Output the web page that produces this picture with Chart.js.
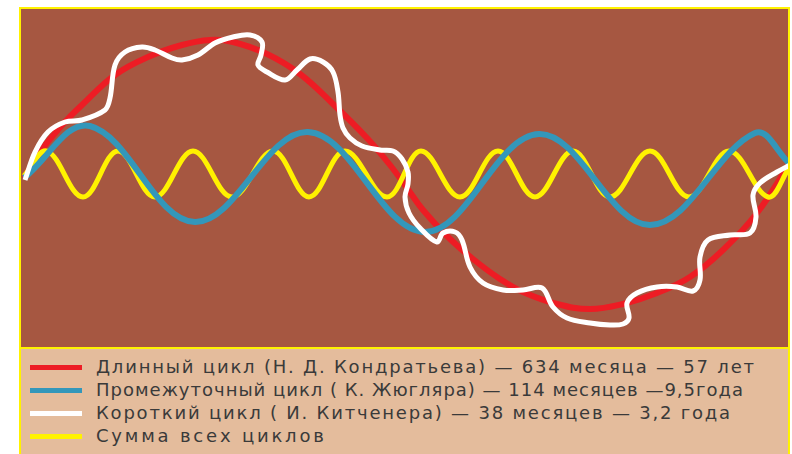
<!DOCTYPE html>
<html>
<head>
<meta charset="utf-8">
<script src="https://cdn.jsdelivr.net/npm/chart.js@4"></script>
<style>
  body { margin: 0; background: #fff; width: 792px; height: 454px; overflow: hidden; position: relative; }
  #plot { position: absolute; left: 19px; top: 7px; width: 767px; height: 338px; border: 2px solid #FFF200; background: #A65741; }
  #legend { position: absolute; left: 19px; top: 349px; width: 767px; height: 110px; border-left: 2px solid #FFF200; border-right: 2px solid #FFF200; background: #E4BC9C; padding-top: 6px; box-sizing: content-box; }
  .row { position: relative; height: 23px; }
  .sw { position: absolute; left: 9px; top: 10px; width: 52px; height: 5px; }
  .lbl { position: absolute; left: 75px; top: 0; line-height: 23px; white-space: nowrap;
         font-family: "DejaVu Sans", sans-serif; font-size: 18px; letter-spacing: 1.8px; color: #3a3a3a; }
  .row:nth-child(2) .lbl { letter-spacing: 1.0px; }
  .row:nth-child(4) .lbl { letter-spacing: 2.8px; }
</style>
</head>
<body>
<div id="plot"><canvas id="cycles" width="767" height="338"></canvas></div>
<div id="legend"></div>
<script>
// x = time across the panel, y = deviation from the middle line
var longX = [3, 19, 44, 61, 94, 127, 161, 189, 212, 246, 279, 312, 346, 369, 386, 402, 426, 452, 479, 502, 536, 569, 602, 636, 669, 702, 736, 769];
var longY = [0, 26, 56, 73, 103, 121, 133, 138, 136, 124, 104, 74, 40, 13, -10, -32, -58, -81, -101, -114, -126, -131, -126, -115, -99, -72, -35, 15];

// medium cycle: start, crests and troughs, end
var midX = [3, 69, 174, 287, 404, 518, 629, 734, 768];
var midY = [0, 52, -44, 46, -54, 44, -47, 45, 15];

var shortX = [3, 26, 62, 97, 134, 172, 211, 252, 288, 324, 366, 400, 439, 477, 514, 552, 589, 629, 668, 708, 747, 768];
var shortY = [2, 27, -19, 27, -19, 27, -19, 27, -19, 27, -19, 27, -19, 27, -19, 27, -19, 27, -19, 27, -19, 10];

var sumX = [4, 14, 27, 44, 61, 84, 89, 94, 104, 121, 134, 151, 161, 177, 194, 212, 229, 241, 240, 237, 246, 264, 276, 289, 302, 312, 317, 319, 322, 329, 341, 359, 372, 381, 387, 387, 384, 388, 399, 416, 422, 434, 441, 449, 462, 482, 502, 521, 532, 546, 569, 589, 602, 608, 606, 616, 636, 656, 672, 679, 679, 687, 709, 729, 735, 732, 739, 756, 769];
var sumY = [-2, 26, 46, 56, 58, 68, 80, 113, 126, 131, 128, 120, 118, 123, 135, 141, 143, 136, 123, 113, 106, 98, 108, 119, 116, 106, 86, 63, 50, 40, 32, 28, 27, 19, 6, -6, -19, -35, -50, -64, -55, -54, -62, -89, -105, -112, -112, -110, -129, -140, -145, -147, -146, -140, -125, -115, -109, -109, -113, -102, -79, -62, -57, -55, -39, -17, -5, 6, 13];

var labels = [
  'Длинный цикл (Н. Д. Кондратьева) — 634 месяца — 57 лет',
  'Промежуточный цикл ( К. Жюгляра) — 114 месяцев —9,5года',
  'Короткий цикл ( И. Китченера) — 38 месяцев — 3,2 года',
  'Сумма всех циклов'
];
var colors = ['#ED1C24', '#3397BA', '#FFFFFF', '#FFF200'];

function pts(xs, ys) {
  return xs.map(function (x, i) { return { x: x, y: ys[i] }; });
}

var chart = new Chart(document.getElementById('cycles'), {
  type: 'line',
  data: {
    datasets: [
      { label: labels[0], data: pts(longX, longY), borderColor: colors[0], borderWidth: 6, tension: 0.4, order: 3 },
      { label: labels[1], data: pts(midX, midY), borderColor: colors[1], borderWidth: 6, tension: 0.37, order: 1 },
      { label: labels[2], data: pts(sumX, sumY), borderColor: colors[2], borderWidth: 5, tension: 0.35, order: 0 },
      { label: labels[3], data: pts(shortX, shortY), borderColor: colors[3], borderWidth: 5, tension: 0.37, order: 2 }
    ]
  },
  options: {
    responsive: false,
    animation: false,
    layout: { padding: 0 },
    elements: { point: { radius: 0 }, line: { borderCapStyle: 'butt', borderJoinStyle: 'round' } },
    scales: {
      x: { type: 'linear', min: 0, max: 767, display: false },
      y: { min: -169, max: 169, display: false }
    },
    plugins: { legend: { display: false }, tooltip: { enabled: false } }
  }
});

// legend rows built from the chart's datasets, in dataset order
var legend = document.getElementById('legend');
chart.data.datasets.forEach(function (ds) {
  var row = document.createElement('div');
  row.className = 'row';
  var sw = document.createElement('span');
  sw.className = 'sw';
  sw.style.background = ds.borderColor;
  var lbl = document.createElement('span');
  lbl.className = 'lbl';
  lbl.textContent = ds.label;
  row.appendChild(sw);
  row.appendChild(lbl);
  legend.appendChild(row);
});
</script>
</body>
</html>
